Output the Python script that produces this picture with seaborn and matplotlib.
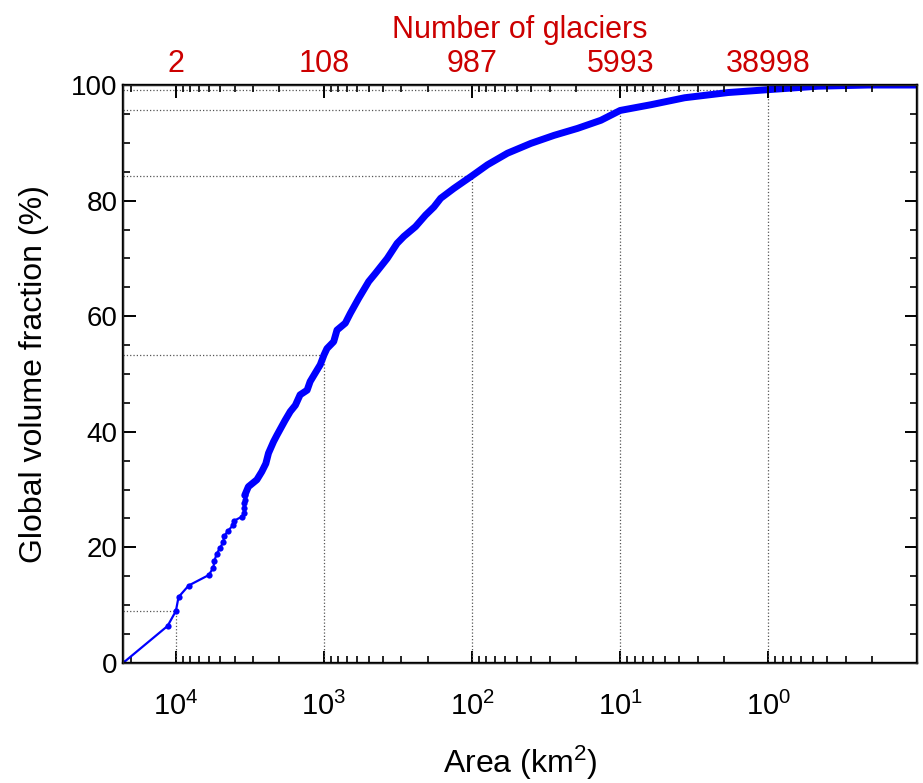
import matplotlib
matplotlib.use("Agg")
import matplotlib.pyplot as plt
import numpy as np
import pandas as pd
import seaborn as sns
from matplotlib.ticker import MultipleLocator, NullFormatter, LogLocator

# glacier area (km2), sorted from the largest
area_sparse = [22750, 11380, 10000, 9600, 8200, 6010, 5580, 5510, 5300, 5040,
               4790, 4730, 4470, 4130, 4050, 3590, 3470, 3450, 3445, 3440, 3430]
frac_sparse = [0.0, 6.4, 9.0, 11.4, 13.4, 15.2, 16.5, 17.6, 18.9, 19.9,
               20.9, 21.9, 22.8, 23.8, 24.6, 25.3, 25.9, 26.8, 27.6, 28.2, 29.0]

area_dense = [3430, 3240, 2840, 2630, 2470, 2370, 2190, 2080, 1830, 1690,
              1560, 1450, 1300, 1240, 1150, 1060, 1000, 955, 860, 817,
              718, 664, 583, 499, 450, 374, 321, 289, 241, 206,
              181, 163, 133, 100, 78.7, 57.7, 40.1, 27.9, 19.4, 13.5,
              10.0, 6.18, 3.67, 1.87, 1.0, 0.459, 0.211, 0.099]
frac_dense = [29.0, 30.5, 31.7, 33.1, 34.5, 36.3, 38.3, 39.4, 42.0, 43.5,
              44.6, 46.4, 47.2, 48.7, 50.1, 51.6, 53.3, 54.4, 55.6, 57.6,
              58.8, 60.5, 63.1, 66.0, 67.4, 70.0, 72.6, 73.8, 75.5, 77.5,
              78.9, 80.4, 82.1, 84.3, 86.2, 88.2, 89.9, 91.3, 92.5, 93.9,
              95.6, 96.6, 97.8, 98.7, 99.2, 99.8, 100.0, 100.0]

# reference thresholds (dotted guides) and glacier counts on top axis
ref_area = [1e4, 1e3, 1e2, 1e1, 1e0]
ref_frac = [9.0, 53.3, 84.3, 95.7, 99.2]
n_glaciers = ["2", "108", "987", "5993", "38998"]
area_labels = [r"$\mathdefault{10^{4}}$", r"$\mathdefault{10^{3}}$", r"$\mathdefault{10^{2}}$",
               r"$\mathdefault{10^{1}}$", r"$\mathdefault{10^{0}}$"]

sns.set_style("ticks")
plt.rcParams["font.family"] = ["Liberation Sans", "DejaVu Sans"]
plt.rcParams["mathtext.default"] = "regular"
for k in ["text.color", "axes.labelcolor", "xtick.color", "ytick.color"]:
    plt.rcParams[k] = "black"

fig = plt.figure(figsize=(9.23, 7.83), dpi=100)
ax = fig.add_axes([0.1333, 0.1533, 0.8602, 0.7381])

xmin, xmax = 22750, 0.099
ax.set_xscale("log")

for a, f in zip(ref_area, ref_frac):
    ax.plot([a, a], [0, f], color="#555555", ls=":", lw=0.9)
    ax.plot([xmin, a], [f, f], color="#555555", ls=":", lw=0.9)

sparse = pd.DataFrame({"area": area_sparse, "frac": frac_sparse})
dense = pd.DataFrame({"area": area_dense, "frac": frac_dense})
sns.lineplot(data=sparse, x="area", y="frac", sort=False, ax=ax, color="#0000ff",
             lw=1.6, marker="o", markersize=4.5, markeredgewidth=0)
sns.lineplot(data=dense, x="area", y="frac", sort=False, ax=ax, color="#0000ff",
             lw=5.0, solid_capstyle="round")

ax.set_xlim(xmin, xmax)
ax.set_ylim(0, 100)
ax.set_xticks(ref_area)
ax.set_xticklabels(area_labels)
ax.xaxis.set_minor_locator(LogLocator(base=10, subs=np.arange(2, 10)))
ax.xaxis.set_minor_formatter(NullFormatter())
ax.yaxis.set_major_locator(MultipleLocator(20))
ax.yaxis.set_minor_locator(MultipleLocator(5))

ax.tick_params(axis="x", which="major", direction="in", length=9, width=1.4,
               labelsize=21, pad=21, top=False)
ax.tick_params(axis="x", which="minor", direction="in", length=5, width=1.2, top=False)
ax.tick_params(axis="y", which="major", direction="in", length=9, width=1.4,
               labelsize=20, pad=4, right=True)
ax.tick_params(axis="y", which="minor", direction="in", length=5, width=1.2, right=True)
for s in ax.spines.values():
    s.set_linewidth(1.7)
    s.set_color("black")

ax.set_xlabel("Area (km$^2$)", fontsize=23, labelpad=16)
ax.set_ylabel("Global volume fraction (%)", fontsize=23, labelpad=16)

ax2 = ax.twiny()
ax2.set_xscale("log")
ax2.set_xlim(xmin, xmax)
ax2.set_xticks(ref_area)
ax2.set_xticklabels(n_glaciers, color="#cc0000")
ax2.xaxis.set_minor_locator(LogLocator(base=10, subs=np.arange(2, 10)))
ax2.xaxis.set_minor_formatter(NullFormatter())
ax2.tick_params(axis="x", which="major", direction="in", length=9, width=1.4,
                labelsize=22, pad=4)
ax2.tick_params(axis="x", which="minor", direction="in", length=5, width=1.2)
ax2.set_xlabel("Number of glaciers", fontsize=22, color="#cc0000", labelpad=8)

fig.savefig("out.png", dpi=100)
